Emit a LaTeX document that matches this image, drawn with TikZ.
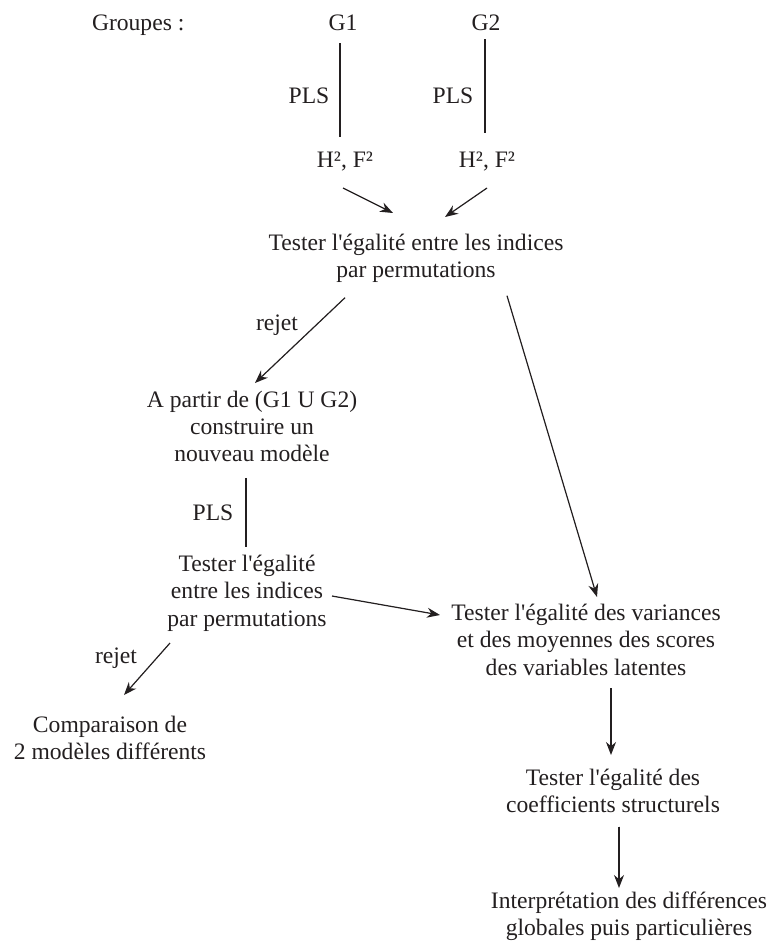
\documentclass[tikz,border=0pt]{standalone}
\usepackage{fontspec}
\setmainfont{Liberation Serif}[Ligatures=TeXOff]
\usetikzlibrary{arrows.meta}
% fixed top and bottom struts so that node edges sit at known distances from the baselines
\newcommand\topstrut{\rule{0pt}{16pt}}
\newcommand\botstrut{\rule[-6pt]{0pt}{6pt}}
\newcommand\lbl[1]{\topstrut#1\botstrut}
\definecolor{ink}{RGB}{35,31,32}
\begin{document}
\begin{tikzpicture}[x=1pt,y=-1pt,
  txt/.style={inner sep=0pt,outer sep=0pt,align=center,text=ink,font=\fontsize{23.6}{27.3}\selectfont},
  plain/.style={draw=ink,line width=1.2pt},
  arr/.style={draw=ink,fill=ink,line width=1.2pt,-{Stealth[length=13pt,width=10pt]}}]
\useasboundingbox (0,0) rectangle (773,945);

% groups and their PLS models
\node[txt,anchor=north west] (grp) at (92,14) {\lbl{Groupes :}};
\node[txt,anchor=north] (g1) at (343,14) {\lbl{G1}};
\node[txt,anchor=north] (g2) at (486,14) {\lbl{G2}};
\node[txt,anchor=north] (h1) at (345,151) {\lbl{H², F²}};
\node[txt,anchor=north] (h2) at (487,151) {\lbl{H², F²}};
\node[txt,anchor=north] (pls1) at (309,87) {\lbl{PLS}};
\node[txt,anchor=north] (pls2) at (453,87) {\lbl{PLS}};

% steps of the procedure
\node[txt,anchor=north] (t1) at (416,234) {\topstrut Tester l'égalité entre les indices\\par permutations\botstrut};
\node[txt,anchor=north] (rej1) at (277,314) {\lbl{rejet}};
\node[txt,anchor=north] (ap) at (252,391) {\topstrut A partir de (G1 U G2)\\construire un\\nouveau modèle\botstrut};
\node[txt,anchor=north] (pls3) at (213,504) {\lbl{PLS}};
\node[txt,anchor=north] (t2) at (247,555) {\topstrut Tester l'égalité\\entre les indices\\par permutations\botstrut};
\node[txt,anchor=north] (var) at (586,604) {\topstrut Tester l'égalité des variances\\et des moyennes des scores\\des variables latentes\botstrut};
\node[txt,anchor=north] (rej2) at (116,647) {\lbl{rejet}};
\node[txt,anchor=north] (cmp) at (110,716) {\topstrut Comparaison de\\2 modèles différents\botstrut};
\node[txt,anchor=north] (coef) at (613,769) {\topstrut Tester l'égalité des\\coefficients structurels\botstrut};
\node[txt,anchor=north] (interp) at (629,892) {\topstrut Interprétation des différences\\globales puis particulières\botstrut};

% connectors
\draw[plain] ([shift={(-3,7)}]g1.south) -- ([shift={(-5,-14)}]h1.north);
\draw[plain] ([shift={(-1,3)}]g2.south) -- ([shift={(-2,-18)}]h2.north);
\draw[arr] ([shift={(-2,15)}]h1.south) -- ([shift={(-23,-21)}]t1.north);
\draw[arr] ([shift={(0,15)}]h2.south) -- ([shift={(29,-17)}]t1.north);
\draw[arr] ([shift={(-71,14)}]t1.south) -- ([shift={(3,-8)}]ap.north);
\draw[arr] ([shift={(91,12)}]t1.south) -- ([shift={(11,-7)}]var.north);
\draw[plain] ([shift={(-6,10)}]ap.south) -- ([shift={(-1,-8)}]t2.north);
\draw[arr] ([shift={(85,-36)}]t2.south) -- ([shift={(-146,11)}]var.north);
\draw[arr] ([shift={(-77,11)}]t2.south) -- ([shift={(14,-21)}]cmp.north);
\draw[arr] ([shift={(25,7)}]var.south) -- ([shift={(-2,-14)}]coef.north);
\draw[arr] ([shift={(6,8)}]coef.south) -- ([shift={(-10,-4)}]interp.north);
\end{tikzpicture}
\end{document}
